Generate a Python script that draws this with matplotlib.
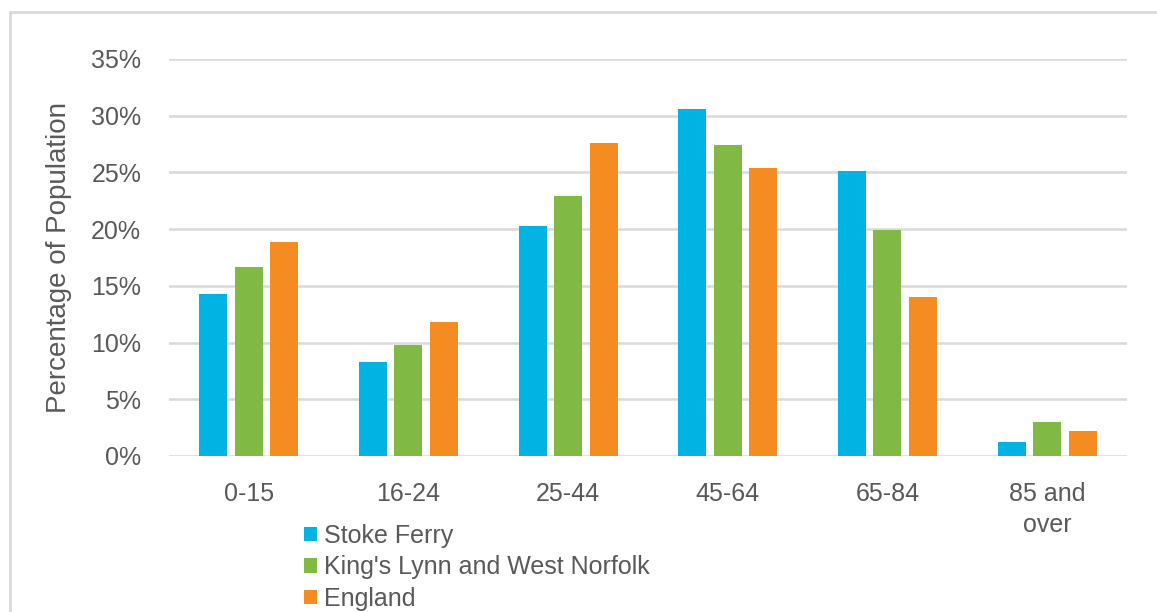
import numpy as np
import matplotlib.pyplot as plt
from matplotlib.patches import Rectangle

plt.rcParams['font.family'] = ['Liberation Sans', 'DejaVu Sans']

age_groups = ["0-15", "16-24", "25-44", "45-64", "65-84", "85 and\nover"]
stoke_ferry = [14.3, 8.3, 20.3, 30.6, 25.1, 1.2]
kings_lynn = [16.7, 9.8, 22.9, 27.4, 19.9, 3.0]
england = [18.9, 11.8, 27.6, 25.4, 14.0, 2.2]

series = [
    ("Stoke Ferry", stoke_ferry, "#00B3E3"),
    ("King's Lynn and West Norfolk", kings_lynn, "#80B943"),
    ("England", england, "#F58C21"),
]

text_grey = "#595959"
grid_grey = "#D9D9D9"
fsize = 18

fig = plt.figure(figsize=(11.57, 6.12), dpi=100)
ax = fig.add_axes([0.146, 0.255, 0.828, 0.6487])

# light chart-area border (top and left edges visible)
fig.patches.append(Rectangle((10 / 1157, -0.1), 1.2, 1 - 12 / 612 + 0.1,
                             transform=fig.transFigure, fill=False,
                             edgecolor=grid_grey, linewidth=2, zorder=0))

x = np.arange(len(age_groups))
step = 0.222
width = 0.175
for i, (name, vals, colour) in enumerate(series):
    ax.bar(x + (i - 1) * step, vals, width, color=colour, label=name, zorder=3)

ax.set_xlim(-0.5, len(age_groups) - 0.5)
ax.set_ylim(0, 35)
ax.set_yticks(range(0, 36, 5))
ax.set_yticklabels([f"{v}%" for v in range(0, 36, 5)])
ax.yaxis.grid(True, color=grid_grey, linewidth=1.8, zorder=0)
ax.set_axisbelow(True)
ax.set_xticks(x)
ax.set_xticklabels(age_groups, linespacing=1.35)

for side in ["top", "right", "left", "bottom"]:
    ax.spines[side].set_visible(False)
ax.tick_params(axis="both", length=0, colors=text_grey, labelsize=fsize)
ax.tick_params(axis="y", pad=20)
ax.tick_params(axis="x", pad=19)

ax.set_ylabel("Percentage of Population", fontsize=20, color=text_grey, labelpad=14)

fig.legend(loc="upper left", bbox_to_anchor=(0.263, 0.144), frameon=False,
           fontsize=fsize, labelcolor=text_grey, handlelength=0.5, handleheight=0.5,
           handletextpad=0.3, labelspacing=0.3, borderpad=0, borderaxespad=0)

fig.savefig("out.png", dpi=100)
